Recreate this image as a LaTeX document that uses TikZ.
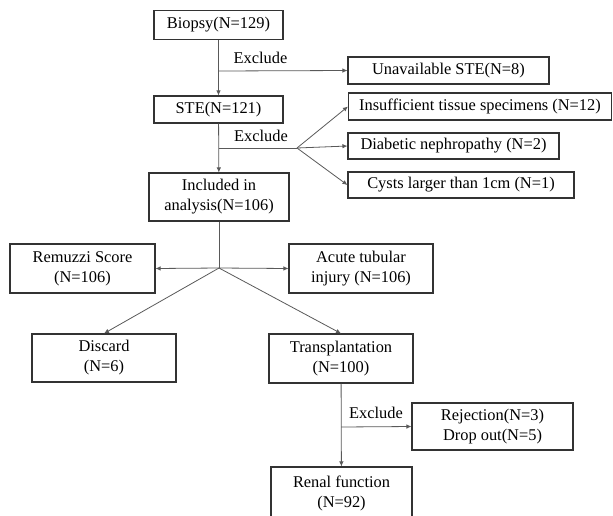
\documentclass[tikz,border=0pt]{standalone}
\usepackage{fontspec}
\setmainfont{Liberation Serif}
\newfontfamily\timesfont{Liberation Serif}
\usetikzlibrary{arrows.meta,positioning}
\tikzstyle{block}=[draw=black!80,line width=1.1pt,fill=white,align=center,inner sep=0pt,
  font=\timesfont\fontsize{16.4}{20}\selectfont]
\tikzstyle{link}=[draw=black!65,line width=0.8pt]
\tikzstyle{tip}=[link,-{Latex[length=5pt,width=4.5pt]}]
\tikzstyle{lbl}=[inner sep=0pt,font=\timesfont\fontsize{16.4}{20}\selectfont]

\begin{document}
\begin{tikzpicture}[x=1pt,y=-1pt]
\useasboundingbox (0,0) rectangle (613,515);
        \node[block,minimum width=129pt,minimum height=29pt] (biopsy) at (218.5,25) {Biopsy(N=129)};
        \node[block,minimum width=201pt,minimum height=27pt] (unavail) at (448.5,70.5) {Unavailable STE(N=8)};
        \node[block,minimum width=129pt,minimum height=27pt] (ste) at (218.5,109.5) {STE(N=121)};
        \node[block,minimum width=263pt,minimum height=27pt] (insuff) at (480,106.5) {Insufficient tissue specimens (N=12)};
        \node[block,minimum width=211pt,minimum height=26pt] (diab) at (453.5,146) {Diabetic nephropathy (N=2)};
        \node[block,minimum width=226pt,minimum height=26pt] (cysts) at (461,185) {Cysts larger than 1cm (N=1)};
        \node[block,minimum width=140pt,minimum height=48pt] (incl) at (219,197) {Included in\\analysis(N=106)};
        \node[block,minimum width=145pt,minimum height=49pt] (remuzzi) at (82.5,268.5) {Remuzzi Score\\(N=106)};
        \node[block,minimum width=144pt,minimum height=49pt] (acute) at (361,268.5) {Acute tubular\\injury (N=106)};
        \node[block,minimum width=144pt,minimum height=48pt] (discard) at (104,358) {Discard\\(N=6)};
        \node[block,minimum width=144pt,minimum height=49pt] (transp) at (341,358.5) {Transplantation\\(N=100)};
        \node[block,minimum width=161pt,minimum height=47pt] (reject) at (492.5,426.5) {Rejection(N=3)\\Drop out(N=5)};
        \node[block,minimum width=141pt,minimum height=52pt] (renal) at (341.5,493) {Renal function\\(N=92)};
        % exclusion labels
        \node[lbl] (ex1) at (260.5,58) {Exclude};
        \node[lbl] (ex2) at (261,136) {Exclude};
        \node[lbl] (ex3) at (376,413) {Exclude};
        % branch points
        \coordinate (b1) at (218.5,71);
        \coordinate (s1) at (218.5,148);
        \coordinate (s2) at (297,148);
        \coordinate (c1) at (219,268);
        \coordinate (t1) at (341,427);
        \draw[tip] (biopsy) -- (ste);
        \draw[tip] (b1) -- (unavail.west);
        \draw[tip] (ste) -- (incl);
        \draw[link] (s1) -- (s2);
        \foreach \to in {insuff, diab, cysts}
          \draw[tip] (s2) -- (\to.west);
        \draw[link] (incl) -- (c1);
        \draw[tip] (c1) -- (remuzzi.east);
        \draw[tip] (c1) -- (acute.west);
        \draw[tip] (c1) -- (discard.north);
        \draw[tip] (c1) -- (transp.north);
        \draw[tip] (transp) -- (renal);
        \draw[tip] (t1) -- (reject.west);
      \end{tikzpicture}
\end{document}
